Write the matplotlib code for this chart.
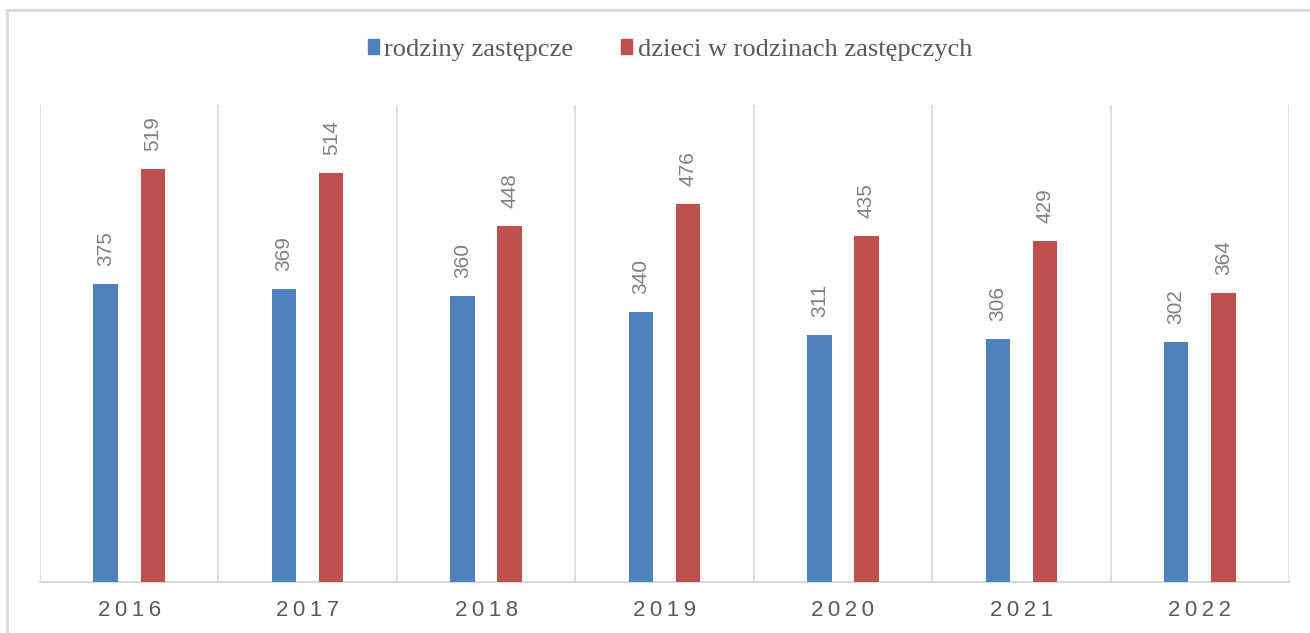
import matplotlib.pyplot as plt
import numpy as np
from matplotlib.patches import Patch
from matplotlib.lines import Line2D

years = ['2016', '2017', '2018', '2019', '2020', '2021', '2022']
rodziny = [375, 369, 360, 340, 311, 306, 302]
dzieci = [519, 514, 448, 476, 435, 429, 364]
series_names = ['rodziny zastępcze', 'dzieci w rodzinach zastępczych']

BLUE = '#4F81BD'
RED = '#C0504D'
GRID = '#D9D9D9'

W, H = 1310, 633
fig = plt.figure(figsize=(W / 100, H / 100), dpi=100)
ax = fig.add_axes([40 / W, (H - 582) / H, (1289 - 40) / W, (582 - 105) / H])

x = np.arange(len(years))
off, bw = 0.132, 0.137
b1 = ax.bar(x - off, rodziny, bw, color=BLUE, zorder=3)
b2 = ax.bar(x + off, dzieci, bw, color=RED, zorder=3)

for bars in (b1, b2):
    for rect in bars:
        ax.annotate(f'{int(rect.get_height())}',
                    (rect.get_x() + rect.get_width() / 2, rect.get_height()),
                    xytext=(0, 13), textcoords='offset points',
                    rotation=90, ha='center', va='bottom',
                    fontsize=15, color='#808080', family='Liberation Sans')

ax.set_xlim(-0.5, len(years) - 0.5)
ax.set_ylim(0, 600)
ax.set_yticks([])
ax.set_xticks(x)
ax.set_xticklabels(['\u2009'.join(y) for y in years], fontsize=16,
                   color='#595959', family='Liberation Sans')
ax.tick_params(axis='x', length=0, pad=13)

ax.set_xticks(np.arange(len(years) + 1) - 0.5, minor=True)
ax.tick_params(axis='x', which='minor', length=0)
ax.grid(which='minor', axis='x', color=GRID, linewidth=1.2, zorder=0)

for s in ('left', 'right', 'top'):
    ax.spines[s].set_visible(False)
ax.spines['bottom'].set_color(GRID)
ax.spines['bottom'].set_linewidth(1.5)

handles = [Patch(color=BLUE), Patch(color=RED)]
fig.legend(handles, series_names, loc='center', bbox_to_anchor=(670 / W, 1 - 50 / H),
           ncol=2, frameon=False, handlelength=0.42, handleheight=0.5,
           handletextpad=0.22, columnspacing=1.8,
           prop={'family': 'Liberation Serif', 'size': 19}, labelcolor='#595959')

# outer frame (top and left edges visible)
fig.add_artist(Line2D([7 / W, 1], [1 - 10 / H, 1 - 10 / H], color=GRID, lw=2,
                      transform=fig.transFigure))
fig.add_artist(Line2D([7 / W, 7 / W], [0, 1 - 10 / H], color=GRID, lw=2,
                      transform=fig.transFigure))

fig.savefig('out.png', dpi=100, facecolor='white')
